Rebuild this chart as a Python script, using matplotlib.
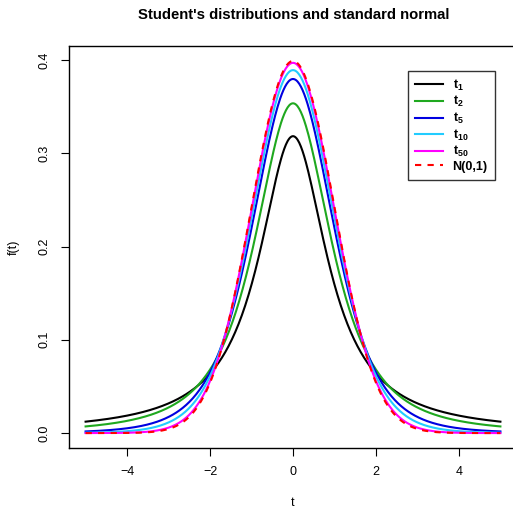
import math
import numpy as np
import matplotlib
matplotlib.use("Agg")
import matplotlib.pyplot as plt

plt.rcParams['font.family'] = ['Liberation Sans', 'DejaVu Sans']
plt.rcParams['mathtext.fontset'] = 'custom'
plt.rcParams['mathtext.rm'] = 'Liberation Sans'
plt.rcParams['mathtext.bf'] = 'Liberation Sans:bold'

# degrees of freedom and curve colours
dfs = [1, 2, 5, 10, 50]
colors = ['black', '#1fa81f', '#0000e0', '#22ccff', '#ff00ff']
labels = [r'$\mathbf{t_{%d}}$' % d for d in dfs]
x_lim = (-5, 5)
x_ticks = [-4, -2, 0, 2, 4]
y_ticks = [0.0, 0.1, 0.2, 0.3, 0.4]


def t_pdf(x, df):
    c = math.gamma((df + 1) / 2) / (math.sqrt(df * math.pi) * math.gamma(df / 2))
    return c * (1 + x**2 / df) ** (-(df + 1) / 2)


x = np.linspace(x_lim[0], x_lim[1], 500)

fig = plt.figure(figsize=(5.13, 5.08), dpi=100)
ax = fig.add_axes([69 / 513, 60 / 508, 448 / 513, 402 / 508])

for d, c, lab in zip(dfs, colors, labels):
    ax.plot(x, t_pdf(x, d), color=c, lw=1.5, label=lab)
norm = np.exp(-x**2 / 2) / np.sqrt(2 * np.pi)
ax.plot(x, norm, color='red', lw=1.5, ls=(0, (3, 3)), label='N(0,1)')

ax.set_xlim(-5.4, 5.4)
ax.set_ylim(-0.016, 0.415)
ax.set_xticks(x_ticks)
ax.set_xticklabels(['\u22124', '\u22122', '0', '2', '4'])
ax.set_yticks(y_ticks)
ax.set_yticklabels(['0.0', '0.1', '0.2', '0.3', '0.4'], rotation=90, va='center')
ax.tick_params(direction='out', length=6, width=0.8, labelsize=9, pad=7)
for s in ax.spines.values():
    s.set_linewidth(1.0)

ax.set_xlabel('t', fontsize=9, labelpad=14)
ax.set_ylabel('f(t)', fontsize=9, labelpad=14)
fig.text(294 / 513, 1 - 15 / 508, "Student's distributions and standard normal",
         ha='center', va='center', fontsize=10.7, fontweight='bold')

leg = ax.legend(loc='upper left', bbox_to_anchor=(0.757, 0.938), borderaxespad=0,
                fontsize=9, frameon=True, fancybox=False, edgecolor='black',
                handlelength=2.2, labelspacing=0.12, handletextpad=0.8,
                borderpad=0.55)
leg.get_frame().set_linewidth(1.0)
for t in leg.get_texts():
    t.set_fontweight('bold')

fig.savefig('out.png', dpi=100)
